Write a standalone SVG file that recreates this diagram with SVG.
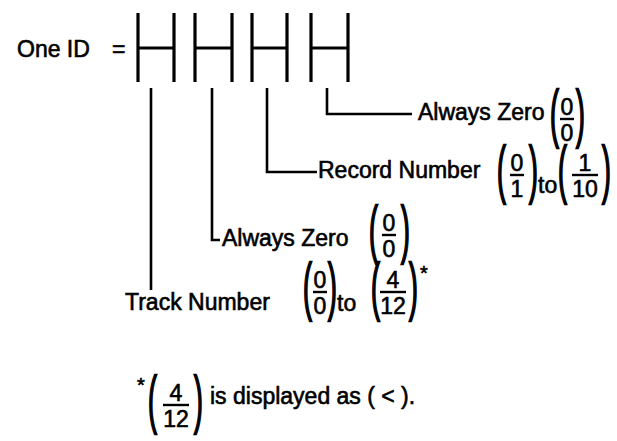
<svg xmlns="http://www.w3.org/2000/svg" width="617" height="441" viewBox="0 0 617 441">
<style>
text{font-family:"Liberation Sans",Arial,sans-serif;font-size:23px;fill:#000;stroke:#000;stroke-width:0.6}
.c{text-anchor:middle}
.p{stroke-width:0.9}
.ast{font-size:20px}
.bar,.ln,.h{stroke:#000;fill:none}
.bar{stroke-width:2.4}
.ln{stroke-width:2.6}
.h{stroke-width:3.2}
</style>
<rect width="617" height="441" fill="#fff"/>
<g id="one-id">
<text x="17" y="57">One ID</text>
<text x="112" y="57">=</text>
</g>
<g id="field-1"><path class="h" d="M138 13V82M174 13V82M138 48H174"/></g>
<g id="field-2"><path class="h" d="M195 13V82M232 13V82M195 48H232"/></g>
<g id="field-3"><path class="h" d="M252 13V82M287 13V82M252 48H287"/></g>
<g id="field-4"><path class="h" d="M311 13V82M348 13V82M311 48H348"/></g>
<g id="connectors">
<path class="ln" d="M151 88V290"/>
<path class="ln" d="M212 88V240H220"/>
<path class="ln" d="M267 88V172H317"/>
<path class="ln" d="M327 88V114H412"/>
</g>
<g id="label-always-zero-1">
<text x="418" y="120">Always Zero</text>
<text class="p" transform="matrix(1.15,0,0,2.75,550,135)">(</text>
<text class="c" x="567" y="115">0</text>
<path class="bar" d="M560 119H574"/>
<text class="c" x="567" y="141">0</text>
<text class="p" transform="matrix(1.15,0,0,2.75,576,135)">)</text>
</g>
<g id="label-record-number">
<text x="318" y="178">Record Number</text>
<text class="p" transform="matrix(1.15,0,0,2.75,497,191)">(</text>
<text class="c" x="517" y="171">0</text>
<path class="bar" d="M510 175H524"/>
<text class="c" x="517" y="197">1</text>
<text class="p" transform="matrix(1.15,0,0,2.75,529,191)">)</text>
<text x="538" y="193">to</text>
<text class="p" transform="matrix(1.15,0,0,2.75,558,191)">(</text>
<text class="c" x="585" y="171">1</text>
<path class="bar" d="M572 175H598"/>
<text class="c" x="585" y="197">10</text>
<text class="p" transform="matrix(1.15,0,0,2.75,602,191)">)</text>
</g>
<g id="label-always-zero-2">
<text x="222" y="246">Always Zero</text>
<text class="p" transform="matrix(1.15,0,0,2.75,369,251)">(</text>
<text class="c" x="389" y="231">0</text>
<path class="bar" d="M382 235H396"/>
<text class="c" x="389" y="257">0</text>
<text class="p" transform="matrix(1.15,0,0,2.75,401,251)">)</text>
</g>
<g id="label-track-number">
<text x="125" y="310">Track Number</text>
<text class="p" transform="matrix(1.15,0,0,2.75,303,308)">(</text>
<text class="c" x="320" y="288">0</text>
<path class="bar" d="M313 292H327"/>
<text class="c" x="320" y="314">0</text>
<text class="p" transform="matrix(1.15,0,0,2.75,328,308)">)</text>
<text x="337" y="311">to</text>
<text class="p" transform="matrix(1.15,0,0,2.75,371,308)">(</text>
<text class="c" x="393" y="288">4</text>
<path class="bar" d="M380 292H406"/>
<text class="c" x="393" y="314">12</text>
<text class="p" transform="matrix(1.15,0,0,2.75,409,308)">)</text>
<text class="ast" x="420" y="280">*</text>
</g>
<g id="footnote">
<text class="ast" x="137" y="392">*</text>
<text class="p" transform="matrix(1.15,0,0,2.75,148,421)">(</text>
<text class="c" x="176" y="401">4</text>
<path class="bar" d="M163 405H189"/>
<text class="c" x="176" y="427">12</text>
<text class="p" transform="matrix(1.15,0,0,2.75,194,421)">)</text>
<text x="210" y="404">is displayed as ( &lt; ).</text>
</g>
</svg>
